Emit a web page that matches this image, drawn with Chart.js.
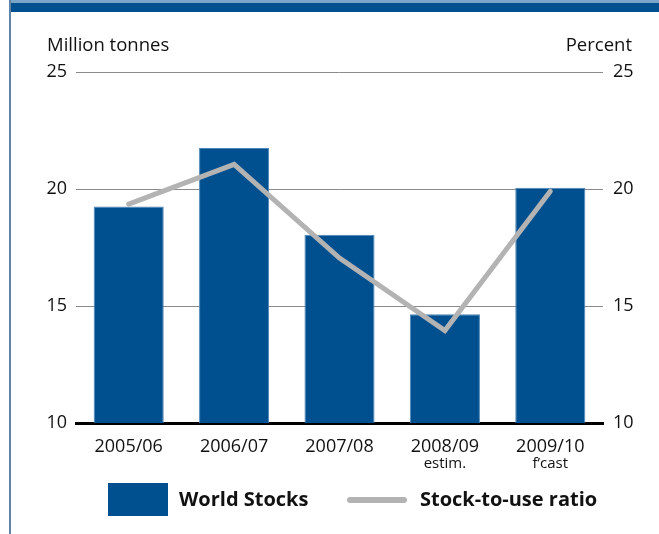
<!DOCTYPE html>
<html>
<head>
<meta charset="utf-8">
<script src="https://cdn.jsdelivr.net/npm/chart.js@4.4.1/dist/chart.umd.min.js"></script>
<style>
  body { margin: 0; background: #fff; font-family: "Open Sans", sans-serif; }
  #wrap { position: relative; width: 659px; height: 534px; overflow: hidden; }
  #chart { position: absolute; left: 0; top: 0; }
  .abs { position: absolute; }
  .ttl { font-size: 18.5px; color: #111; line-height: 20px; }
  .leg { font-size: 20px; font-weight: bold; color: #111; line-height: 24px; }
</style>
</head>
<body>
<div id="wrap">
  <canvas id="chart" width="659" height="534"></canvas>
  <div class="abs" style="left:9px;top:0;width:650px;height:3px;background:#7ba4c9"></div>
  <div class="abs" style="left:9px;top:3px;width:650px;height:9px;background:#00508f"></div>
  <div class="abs" style="left:9px;top:0;width:2px;height:534px;background:#6283a5"></div>
  <div class="abs ttl" style="left:47px;top:34px">Million tonnes</div>
  <div class="abs ttl" style="right:27px;top:34px">Percent</div>
  <div class="abs" style="left:108px;top:483px;width:60px;height:33px;background:#00508f"></div>
  <div class="abs leg" style="left:179px;top:487px">World Stocks</div>
  <div class="abs" style="left:347px;top:497px;width:60px;height:6px;border-radius:3px;background:#b3b3b3"></div>
  <div class="abs leg" style="left:420px;top:487px">Stock-to-use ratio</div>
</div>
<script>
const seasons = ['2005/06', '2006/07', '2007/08', '2008/09', '2009/10'];
const seasonNotes = ['', '', '', 'estim.', 'f\u2019cast'];
const worldStocks = [19.25, 21.75, 18.05, 14.65, 20.05];   // million tonnes
const stockToUse = [19.35, 21.05, 17.05, 13.95, 19.9];     // percent
const yTicks = [10, 15, 20, 25];

// draws the small second line under some season labels
const notesPlugin = {
    id: 'notes',
    afterDraw(chart) {
        const ctx = chart.ctx;
        const x = chart.scales.x;
        ctx.save();
        ctx.font = '15px "Open Sans"';
        ctx.fillStyle = '#111';
        ctx.textAlign = 'center';
        ctx.textBaseline = 'middle';
        seasonNotes.forEach((n, i) => {
            if (n) ctx.fillText(n, x.getPixelForValue(i), 464);
        });
        ctx.restore();
    }
};

const tickFont = { family: '"Open Sans"', size: 18 };

new Chart(document.getElementById('chart'), {
    data: {
        labels: seasons,
        datasets: [
            {
                type: 'line',
                data: stockToUse,
                yAxisID: 'y2',
                borderColor: '#b3b3b3',
                borderWidth: 5,
                borderCapStyle: 'round',
                pointRadius: 0,
                tension: 0,
                order: 0,
            },
            {
                type: 'bar',
                data: worldStocks,
                yAxisID: 'y',
                backgroundColor: '#00508f',
                borderColor: '#4d85b8',
                borderWidth: 1,
                categoryPercentage: 1,
                barPercentage: 0.665,
                order: 1,
            },
        ]
    },
    options: {
        responsive: false,
        animation: false,
        layout: { padding: { top: 72, left: 0, right: 0, bottom: 0 } },
        plugins: {
            legend: { display: false },
            tooltip: { enabled: false },
        },
        scales: {
            x: {
                grid: { display: false },
                border: { display: true, color: '#000', width: 3 },
                ticks: { font: tickFont, color: '#111', padding: 5, maxRotation: 0 },
                afterFit: (s) => { s.height = 111; },
            },
            y: {
                position: 'left',
                min: 10,
                max: 25,
                afterBuildTicks: (s) => { s.ticks = yTicks.map(v => ({ value: v })); },
                grid: { color: '#8a8a8a', lineWidth: 1, drawTicks: false },
                border: { display: false },
                ticks: { font: tickFont, color: '#111', padding: 9 },
                afterFit: (s) => { s.width = 76; },
            },
            y2: {
                position: 'right',
                min: 10,
                max: 25,
                afterBuildTicks: (s) => { s.ticks = yTicks.map(v => ({ value: v })); },
                grid: { display: false, drawTicks: false },
                border: { display: false },
                ticks: { font: tickFont, color: '#111', padding: 10 },
                afterFit: (s) => { s.width = 56; },
            }
        }
    },
    plugins: [notesPlugin]
});
</script>
</body>
</html>
